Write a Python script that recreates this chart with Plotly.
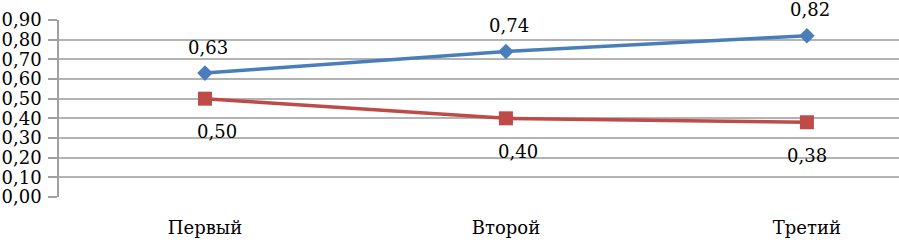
import plotly.graph_objects as go

categories = ["Первый", "Второй", "Третий"]
series_blue = [0.63, 0.74, 0.82]
series_red = [0.50, 0.40, 0.38]
y_ticks = [0.0, 0.1, 0.2, 0.3, 0.4, 0.5, 0.6, 0.7, 0.8, 0.9]

xs = list(range(len(categories)))
font_family = "DejaVu Serif"
fsize = 18

fig = go.Figure()
fig.add_trace(go.Scatter(x=xs, y=series_blue, mode="lines+markers",
                         line=dict(color="#4A7EBB", width=3.5),
                         marker=dict(symbol="diamond", size=12, color="#4A7EBB")))
fig.add_trace(go.Scatter(x=xs, y=series_red, mode="lines+markers",
                         line=dict(color="#BE4B48", width=3.5),
                         marker=dict(symbol="square", size=14, color="#BE4B48")))

annotations = []
for x, v in zip(xs, series_blue):
    annotations.append(dict(x=x, y=v, text=f"{v:.2f}".replace(".", ","), showarrow=False,
                            yshift=26, xshift=3, font=dict(family=font_family, size=fsize, color="#000")))
for x, v in zip(xs, series_red):
    annotations.append(dict(x=x, y=v, text=f"{v:.2f}".replace(".", ","), showarrow=False,
                            yshift=-33, xshift=12 if x < 2 else 0,
                            font=dict(family=font_family, size=fsize, color="#000")))

fig.update_layout(
    width=899, height=243,
    margin=dict(l=59, r=0, t=20, b=46),
    plot_bgcolor="white", paper_bgcolor="white",
    showlegend=False,
    separators=", ",
    annotations=annotations,
    font=dict(family=font_family, size=fsize, color="#000"),
    xaxis=dict(range=[-0.485, 2.306], tickvals=xs, ticktext=categories,
               showgrid=False, zeroline=False, showline=False, ticks="",
               ticklabelstandoff=18,
               automargin=False, tickfont=dict(family=font_family, size=fsize)),
    yaxis=dict(range=[0, 0.9], tickvals=y_ticks, tickformat=".2f",
               showgrid=True, gridcolor="#B3B3B3", gridwidth=1.5,
               zeroline=False, showline=True, linecolor="#A0A0A0", linewidth=1.5,
               ticks="outside", ticklen=9, tickcolor="#A0A0A0", tickwidth=1.5,
               ticklabelstandoff=3,
               automargin=False, tickfont=dict(family=font_family, size=fsize)),
)
fig.write_html("out.html", config={"displayModeBar": False},
               post_script="document.body.style.margin='0';document.body.style.overflow='hidden';")
